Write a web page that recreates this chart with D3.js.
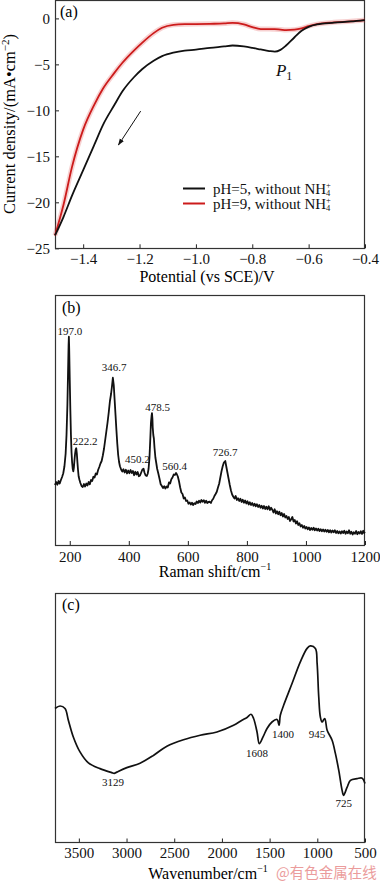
<!DOCTYPE html>
<html>
<head>
<meta charset="utf-8">
<script src="https://cdn.jsdelivr.net/npm/d3@7"></script>
<style>
body { margin: 0; background: #fff; }
svg { display: block; font-family: "Liberation Serif", "Times New Roman", serif; }
</style>
</head>
<body>
<div id="chart"></div>
<script>
// (a) polarization curves, current density in mA/cm2
var potential = [-1.5, -1.47, -1.44, -1.40, -1.36, -1.33, -1.29, -1.26, -1.22, -1.19, -1.15, -1.12, -1.08, -1.04, -1.0,
    -0.95, -0.9, -0.87, -0.83, -0.8, -0.77, -0.74, -0.72, -0.70, -0.68, -0.65, -0.625, -0.6, -0.57, -0.51, -0.45, -0.4];
var currentPH5 = [-23.6, -21.6, -19.3, -16.5, -13.7, -11.6, -9.45, -7.9, -6.4, -5.5, -4.6, -4.1, -3.72, -3.5, -3.4,
    -3.2, -3.05, -2.95, -3.05, -3.2, -3.38, -3.55, -3.62, -3.42, -2.95, -2.05, -1.35, -0.92, -0.65, -0.47, -0.33, -0.18];
var currentPH9 = [-23.6, -20.3, -16.2, -12.1, -9.35, -7.65, -5.95, -4.8, -3.5, -2.63, -1.6, -1.02, -0.7, -0.63, -0.62,
    -0.59, -0.55, -0.48, -0.64, -0.95, -1.16, -1.16, -1.17, -1.22, -1.27, -1.22, -1.08, -0.85, -0.62, -0.43, -0.32, -0.18];
var potentialTicks = [-1.4, -1.2, -1.0, -0.8, -0.6, -0.4];
var currentTicks = [0, -5, -10, -15, -20, -25];
var legendLabels = ["pH=5, without NH", "pH=9, without NH"];
var scanArrow = [[-1.196, -10.08], [-1.275, -13.77]];
var peakP1 = [-0.716, -6.27];

// (b) Raman spectrum, intensity in arbitrary units
var ramanShift = [150, 154, 158, 162, 166, 170, 174, 178, 182, 186, 189, 192, 194, 196, 197, 198, 200, 202, 204, 206,
    208, 210, 212, 214, 216, 218, 220, 222, 224, 226, 228, 230, 233, 236, 240, 244, 248, 252, 256, 260,
    264, 268, 272, 276, 280, 284, 288, 292, 296, 300, 304, 308, 312, 316, 320, 324, 328, 332, 336, 340,
    343, 346, 349, 352, 355, 358, 361, 364, 367, 370, 374, 378, 382, 386, 390, 394, 398, 402, 406, 410,
    414, 418, 422, 426, 430, 434, 438, 442, 446, 450, 453, 457, 461, 464, 467, 470, 473, 475, 477, 478.5,
    480, 481, 483, 485, 487, 490, 493, 496, 500, 504, 508, 512, 516, 520, 524, 528, 532, 536, 540, 544,
    548, 552, 556, 560, 563, 566, 570, 574, 578, 582, 586, 590, 594, 598, 602, 606, 610, 614, 618, 622,
    626, 630, 634, 638, 642, 646, 650, 654, 658, 662, 666, 670, 674, 678, 682, 686, 690, 694, 698, 702,
    706, 710, 714, 718, 722, 726.7, 730, 734, 738, 742, 746, 750, 754, 758, 762, 766, 770, 774, 778, 782,
    786, 790, 794, 798, 802, 806, 810, 814, 818, 822, 826, 830, 834, 838, 842, 846, 850, 854, 858, 862,
    866, 870, 874, 878, 882, 886, 890, 894, 898, 902, 906, 910, 914, 918, 922, 926, 930, 934, 938, 942,
    946, 950, 954, 958, 962, 966, 970, 974, 978, 982, 986, 990, 994, 998, 1002, 1006, 1010, 1014, 1018, 1022,
    1026, 1030, 1034, 1038, 1042, 1046, 1050, 1054, 1058, 1062, 1066, 1070, 1074, 1078, 1082, 1086, 1090, 1094, 1098, 1102,
    1106, 1110, 1114, 1118, 1122, 1126, 1130, 1134, 1138, 1142, 1146, 1150, 1154, 1158, 1162, 1166, 1170, 1174, 1178, 1182,
    1186, 1190, 1194, 1197, 1200];
var ramanIntensity = [24.0, 25.2, 24.1, 25.6, 24.6, 26.0, 27.2, 28.7, 31.5, 36.5, 44, 56, 68, 80, 83.3, 79, 66, 54, 44, 37,
    33, 30.5, 29.5, 31, 34, 36.5, 38.2, 38.7, 36.5, 33, 30, 27.5, 26, 24.8, 23.6, 23.2, 24.4, 23.4, 24.6, 23.8,
    25.2, 24.3, 26.0, 25.6, 27.3, 27.0, 28.6, 28.2, 30.0, 31.2, 32.6, 33.6, 35.8, 38.5, 42.0, 45.5, 49.0, 53, 57.5, 60.5,
    63.5, 66.9, 64, 58, 52, 46, 40.5, 36.0, 33.2, 31.5, 30.2, 29.4, 30.3, 29.0, 30.1, 28.6, 29.8, 28.7, 30.0, 28.8,
    29.6, 27.9, 29.3, 28.2, 29.2, 27.5, 27.8, 29.0, 30.2, 30.5, 29.0, 27.8, 27.6, 28.5, 30.5, 35, 43, 49, 51.5, 52.7,
    50.5, 47, 44, 42.5, 39, 35, 32.8, 30.5, 28.6, 26.5, 24.3, 23.6, 22.8, 23.5, 22.6, 23.4, 23.0, 25.0, 24.6, 26.3,
    27.0, 28.2, 28.0, 28.8, 28.2, 27.4, 25.5, 23.0, 21.0, 20.4, 18.6, 19.0, 17.6, 17.8, 16.5, 17.0, 16.2, 16.9, 16.0, 16.7,
    16.4, 17.4, 16.8, 17.7, 17.0, 18.0, 17.3, 17.9, 16.9, 17.7, 16.8, 17.2, 17.3, 16.8, 17.9, 18.5, 19.6, 20.4, 21.3, 23.0,
    24.5, 27.0, 29.5, 31.5, 33.0, 33.6, 31.5, 29.0, 26.5, 24.0, 21.8, 20.2, 19.3, 18.6, 19.6, 18.0, 18.7, 17.6, 18.5, 17.2,
    18.1, 16.9, 17.8, 16.6, 17.5, 16.2, 17.1, 16.0, 16.8, 15.7, 16.5, 15.5, 16.3, 15.2, 16.0, 14.9, 15.7, 14.6, 15.6, 14.4,
    15.3, 14.3, 15.5, 14.0, 14.9, 14.1, 13.0, 14.3, 12.6, 13.5, 12.3, 13.3, 11.9, 12.8, 11.4, 12.4, 11.0, 11.6, 10.4, 11.2,
    9.6, 10.3, 11.2, 9.4, 10.0, 8.6, 9.5, 8.0, 8.7, 7.4, 8.0, 6.9, 7.6, 6.6, 7.2, 6.3, 7.0, 6.0, 6.8, 6.1,
    6.9, 5.9, 6.6, 5.8, 6.5, 5.6, 6.3, 5.5, 6.2, 5.4, 6.1, 5.3, 6.0, 5.1, 5.9, 5.0, 5.8, 5.1, 5.9, 4.8,
    5.6, 4.7, 5.4, 4.6, 5.5, 4.8, 5.7, 4.5, 5.4, 4.7, 5.9, 4.5, 5.3, 4.2, 5.1, 4.5, 5.6, 4.3, 5.2, 4.6,
    5.5, 4.4, 5.7, 4.8, 5.2];
var ramanTicks = [200, 400, 600, 800, 1000, 1200];
var ramanPeakText = ["197.0", "222.2", "346.7", "450.2", "478.5", "560.4", "726.7"];
var ramanPeakShift = [200, 252, 350, 429, 498, 555, 726];
var ramanPeakLevel = [84, 40.2, 69.6, 32.9, 53.6, 30.1, 35.7];

// (c) FTIR spectrum, transmittance in arbitrary units
var ftirWavenumber = [3750, 3697, 3645, 3610, 3558, 3488, 3400, 3278, 3155, 3129, 3102, 2997, 2858, 2718, 2577, 2403, 2228, 2052, 1878, 1790,
    1737, 1695, 1668, 1632, 1608, 1569, 1527, 1475, 1422, 1401, 1388, 1353, 1265, 1178, 1107, 1073, 1020, 1002, 985, 968,
    950, 922, 897, 845, 810, 775, 740, 725, 687, 653, 582, 530, 500];
var ftirTransmittance = [53.7, 54.7, 53.7, 49.0, 42.3, 36.3, 31.9, 29.6, 28.0, 27.7, 28.2, 30.0, 31.8, 34.9, 38.6, 41.2, 43.0, 44.3, 47.0, 49.0,
    50.1, 51.4, 49.7, 44.3, 39.6, 42.3, 45.7, 48.3, 49.3, 47.0, 51.0, 55.0, 63.7, 72.4, 77.8, 78.8, 77.8, 71.8, 58.4, 50.3,
    48.3, 49.7, 45.0, 41.0, 35.6, 28.9, 20.9, 18.9, 22.2, 24.9, 25.6, 25.8, 23.6];
var ftirTicks = [3500, 3000, 2500, 2000, 1500, 1000, 500];
var ftirPeakText = ["3129", "1608", "1400", "945", "725"];
var ftirPeakWavenumber = [3141, 1632, 1359, 1002, 723];
var ftirPeakLevel = [22.6, 34.1, 41.9, 41.9, 14.3];

var width = 380, height = 881;
var left = 55, right = 365;
var serif = "'Liberation Serif', 'Times New Roman', serif";
var svg = d3.select("#chart").append("svg").attr("width", width).attr("height", height);

var defs = svg.append("defs");
defs.append("marker")
    .attr("id", "arrow")
    .attr("viewBox", "0 0 10 10")
    .attr("refX", 9).attr("refY", 5)
    .attr("markerWidth", 7).attr("markerHeight", 7)
    .attr("orient", "auto")
    .append("path")
    .attr("d", "M0,1.5L10,5L0,8.5z")
    .attr("fill", "#111");

function styleAxis(g) {
    g.attr("font-family", serif).attr("font-size", 15);
    g.select(".domain").remove();
    g.selectAll("line").attr("stroke", "#222");
    g.selectAll("text").attr("fill", "#111");
}

function frame(top, bottom) {
    svg.append("rect")
        .attr("x", left + 0.5).attr("y", top + 0.5)
        .attr("width", right - left - 1).attr("height", bottom - top - 1)
        .attr("fill", "none")
        .attr("stroke", "#333")
        .attr("stroke-width", 1.2);
}

// ---------- (a) ----------
var xA = d3.scaleLinear().domain([-1.5, -0.4]).range([left, right]);
var yA = d3.scaleLinear().domain([-25, 2]).range([248.3, 0]);

svg.append("g")
    .attr("transform", "translate(0,248.3)")
    .call(d3.axisBottom(xA).tickValues(potentialTicks).tickSize(-4).tickPadding(5).tickFormat(d3.format(".1f")))
    .call(styleAxis);
svg.append("g")
    .attr("transform", "translate(" + left + ",0)")
    .call(d3.axisLeft(yA).tickValues(currentTicks).tickSize(-4).tickPadding(5))
    .call(styleAxis);
frame(0, 249);

var lineA = d3.line()
    .x(function (d, i) { return xA(potential[i]); })
    .y(function (d) { return yA(d); })
    .curve(d3.curveMonotoneX);

// soft halo around the red curve
svg.append("path")
    .attr("d", lineA(currentPH9))
    .attr("fill", "none")
    .attr("stroke", "rgba(225,70,70,0.25)")
    .attr("stroke-width", 5);
svg.append("path")
    .attr("d", lineA(currentPH9))
    .attr("fill", "none")
    .attr("stroke", "#cc1b1b")
    .attr("stroke-width", 1.8);
svg.append("path")
    .attr("d", lineA(currentPH5))
    .attr("fill", "none")
    .attr("stroke", "#111")
    .attr("stroke-width", 1.8);

svg.append("line")
    .attr("x1", xA(scanArrow[0][0])).attr("y1", yA(scanArrow[0][1]))
    .attr("x2", xA(scanArrow[1][0])).attr("y2", yA(scanArrow[1][1]))
    .attr("stroke", "#111")
    .attr("stroke-width", 1)
    .attr("marker-end", "url(#arrow)");

var p1 = svg.append("text")
    .attr("x", xA(peakP1[0])).attr("y", yA(peakP1[1]))
    .attr("font-size", 17)
    .attr("fill", "#111");
p1.append("tspan").attr("font-style", "italic").text("P");
p1.append("tspan").attr("font-size", 12).attr("dy", 4).text("1");

svg.append("text")
    .attr("x", 60).attr("y", 17)
    .attr("font-size", 16)
    .text("(a)");

var legendColors = ["#111", "#cc1b1b"];
legendLabels.forEach(function (label, i) {
    var y = 188.5 + i * 15;
    svg.append("line")
        .attr("x1", 183).attr("x2", 205)
        .attr("y1", y).attr("y2", y)
        .attr("stroke", legendColors[i])
        .attr("stroke-width", 2);
    var t = svg.append("text")
        .attr("x", 213).attr("y", y + 5)
        .attr("font-size", 15)
        .attr("fill", "#111");
    t.append("tspan").text(label);
    t.append("tspan").attr("font-size", 8.5).attr("dy", -5.5).text("+");
    t.append("tspan").attr("font-size", 8.5).attr("dx", -4.8).attr("dy", 8).text("4");
});

svg.append("text")
    .attr("x", 207).attr("y", 282)
    .attr("text-anchor", "middle")
    .attr("font-size", 16)
    .text("Potential (vs SCE)/V");

var yTitle = svg.append("text")
    .attr("transform", "translate(15,124) rotate(-90)")
    .attr("text-anchor", "middle")
    .attr("font-size", 16.5);
yTitle.append("tspan").text("Current density/(mA\u2022cm");
yTitle.append("tspan").attr("font-size", 11).attr("dy", -6).text("\u22122");
yTitle.append("tspan").attr("dy", 6).text(")");

// ---------- (b) ----------
var xB = d3.scaleLinear().domain([150, 1200]).range([left, right]);
var yB = d3.scaleLinear().domain([0, 100]).range([545, 295]);

svg.append("g")
    .attr("transform", "translate(0,545)")
    .call(d3.axisBottom(xB).tickValues(ramanTicks).tickSize(-4).tickPadding(6).tickFormat(d3.format("d")))
    .call(styleAxis);
frame(295, 546);

var lineB = d3.line()
    .x(function (d, i) { return xB(ramanShift[i]); })
    .y(function (d) { return yB(d); });
svg.append("path")
    .attr("d", lineB(ramanIntensity))
    .attr("fill", "none")
    .attr("stroke", "#111")
    .attr("stroke-width", 1.8)
    .attr("stroke-linejoin", "round");

svg.selectAll(".ramanPeak")
    .data(ramanPeakText)
    .enter()
    .append("text")
    .attr("class", "ramanPeak")
    .attr("x", function (d, i) { return xB(ramanPeakShift[i]); })
    .attr("y", function (d, i) { return yB(ramanPeakLevel[i]); })
    .attr("text-anchor", "middle")
    .attr("font-size", 11)
    .attr("fill", "#111")
    .text(function (d) { return d; });

svg.append("text")
    .attr("x", 62).attr("y", 313)
    .attr("font-size", 16)
    .text("(b)");

var bTitle = svg.append("text")
    .attr("x", 215).attr("y", 577)
    .attr("text-anchor", "middle")
    .attr("font-size", 16);
bTitle.append("tspan").text("Raman shift/cm");
bTitle.append("tspan").attr("font-size", 10).attr("dy", -7).text("\u22121");

// ---------- (c) ----------
var xC = d3.scaleLinear().domain([3750, 500]).range([left, right]);
var yC = d3.scaleLinear().domain([0, 100]).range([842.5, 593]);

svg.append("g")
    .attr("transform", "translate(0,842.5)")
    .call(d3.axisBottom(xC).tickValues(ftirTicks).tickSize(-4).tickPadding(5).tickFormat(d3.format("d")))
    .call(styleAxis);
frame(593, 843);

var lineC = d3.line()
    .x(function (d, i) { return xC(ftirWavenumber[i]); })
    .y(function (d) { return yC(d); })
    .curve(d3.curveCatmullRom);
svg.append("path")
    .attr("d", lineC(ftirTransmittance))
    .attr("fill", "none")
    .attr("stroke", "#111")
    .attr("stroke-width", 1.7);

svg.selectAll(".ftirPeak")
    .data(ftirPeakText)
    .enter()
    .append("text")
    .attr("class", "ftirPeak")
    .attr("x", function (d, i) { return xC(ftirPeakWavenumber[i]); })
    .attr("y", function (d, i) { return yC(ftirPeakLevel[i]); })
    .attr("text-anchor", "middle")
    .attr("font-size", 11)
    .attr("fill", "#111")
    .text(function (d) { return d; });

svg.append("text")
    .attr("x", 62).attr("y", 610)
    .attr("font-size", 16)
    .text("(c)");

var cTitle = svg.append("text")
    .attr("x", 208).attr("y", 879)
    .attr("text-anchor", "middle")
    .attr("font-size", 16);
cTitle.append("tspan").text("Wavenumber/cm");
cTitle.append("tspan").attr("font-size", 10).attr("dy", -7).text("\u22121");

svg.append("text")
    .attr("x", 276).attr("y", 878)
    .attr("font-family", "'Noto Sans CJK SC', sans-serif")
    .attr("font-size", 14.5)
    .attr("fill", "#eb9c9c")
    .text("@有色金属在线");
</script>
</body>
</html>
